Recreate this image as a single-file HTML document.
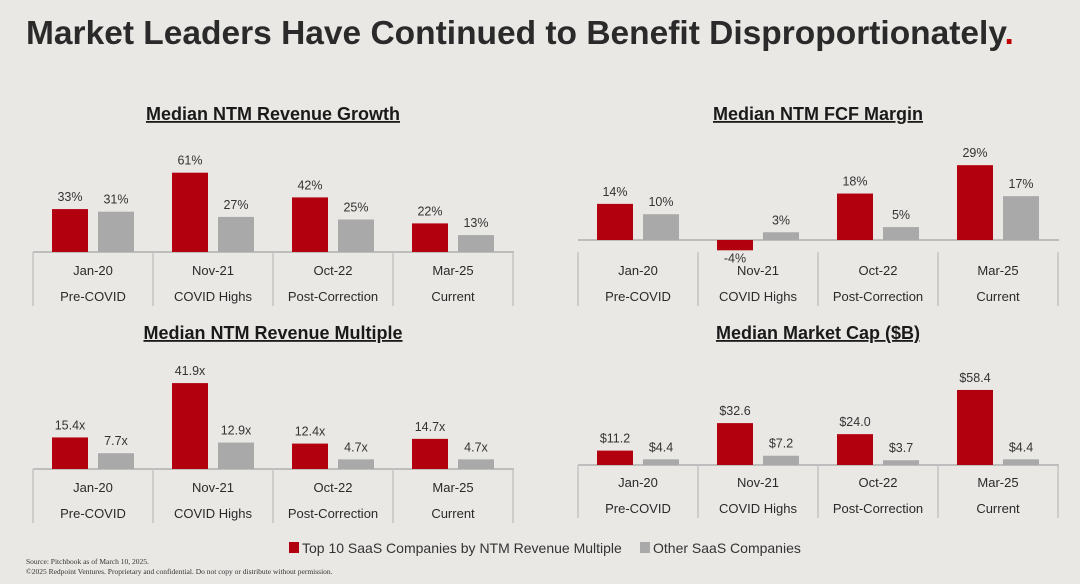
<!DOCTYPE html>
<html><head><meta charset="utf-8"><style>
html,body{margin:0;padding:0;background:#e9e8e5;}
svg{display:block;font-family:"Liberation Sans",sans-serif;}
</style></head><body>
<svg id="s" width="1080" height="584" viewBox="0 0 1080 584">
<rect width="1080" height="584" fill="#e9e8e5"/>
<text x="26" y="44" font-size="33.5" font-weight="bold" fill="#2a2a2a">Market Leaders Have Continued to Benefit Disproportionately<tspan fill="#c00000">.</tspan></text>
<g id="legend">
<rect x="289" y="542" width="10" height="11" fill="#b3000e"/>
<text x="302" y="553" font-size="14" fill="#333">Top 10 SaaS Companies by NTM Revenue Multiple</text>
<rect x="640" y="542" width="10" height="11" fill="#a9a9a9"/>
<text x="653" y="553" font-size="14" fill="#333">Other SaaS Companies</text>
</g>
<text x="26" y="564" font-size="7.5" font-family="Liberation Serif,serif" fill="#333">Source: Pitchbook as of March 10, 2025.</text>
<text x="26" y="574" font-size="7.5" font-family="Liberation Serif,serif" fill="#333">©2025 Redpoint Ventures. Proprietary and confidential. Do not copy or distribute without permission.</text>
</svg>
<script>
const categories = ["Jan-20","Nov-21","Oct-22","Mar-25"];
const phases = ["Pre-COVID","COVID Highs","Post-Correction","Current"];
const revGrowthTop = [33,61,42,22];
const revGrowthOther = [31,27,25,13];
const fcfTop = [14,-4,18,29];
const fcfOther = [10,3,5,17];
const multipleTop = [15.4,41.9,12.4,14.7];
const multipleOther = [7.7,12.9,4.7,4.7];
const mcapTop = [11.2,32.6,24.0,58.4];
const mcapOther = [4.4,7.2,3.7,4.4];

const svg = document.getElementById('s');
const NS = 'http://www.w3.org/2000/svg';
function mk(tag, attrs){const e=document.createElementNS(NS,tag);for(const k in attrs)e.setAttribute(k,attrs[k]);return e;}

function chart(opt){
  const g = mk('g',{});
  
  
  svg.appendChild(g);
  const t = mk('text',{x:opt.x0+240,y:opt.titleY,'font-size':18,'font-weight':'bold','text-anchor':'middle',fill:'#1a1a1a','text-decoration':'underline'});
  t.textContent = opt.title;
  
  
  g.appendChild(t);
  const y = v => opt.base - v*opt.scale;
  const gw = 120;
  const lo = opt.labOff;
  const ax = mk('line',{x1:opt.x0,x2:opt.x0+gw*4+1,y1:opt.base,y2:opt.base,stroke:'#bdbdbd','stroke-width':2});
  
  
  g.appendChild(ax);
  for(let i=0;i<=4;i++){
    const l = mk('line',{x1:opt.x0+i*gw,x2:opt.x0+i*gw,y1:opt.base+opt.sepGap,y2:opt.base+lo+31,stroke:'#c4c4c4','stroke-width':1.5});
    
    
    g.appendChild(l);
  }
  categories.forEach((c,i)=>{
    const gx = opt.x0+i*gw;
    [[opt.a,'#b3000e',19,'top10'],[opt.b,'#a9a9a9',65,'other']].forEach(([arr,col,off,ser])=>{
      const v = arr[i];
      const top = Math.min(y(v),opt.base), h = Math.abs(y(v)-opt.base);
      const r = mk('rect',{x:gx+off,y:top,width:36,height:h,fill:col});
      
      
      g.appendChild(r);
      const ly = v>=0 ? top-8 : opt.base+h+12;
      const lt = mk('text',{x:gx+off+18,y:ly,'font-size':12.5,'text-anchor':'middle',fill:'#333'});
      lt.textContent = opt.fmt(v);
      
      
      g.appendChild(lt);
    });
    const c1 = mk('text',{x:gx+60,y:opt.base+lo,'font-size':13,'text-anchor':'middle',fill:'#2a2a2a'});
    c1.textContent = c;
    
    
    g.appendChild(c1);
    const c2 = mk('text',{x:gx+60,y:opt.base+lo+26,'font-size':13,'text-anchor':'middle',fill:'#2a2a2a'});
    c2.textContent = phases[i];
    
    
    g.appendChild(c2);
  });
}
chart({name:'revenue-growth-chart',title:'Median NTM Revenue Growth',x0:33,titleY:120,base:252,scale:1.3,sepGap:0,labOff:23,a:revGrowthTop,b:revGrowthOther,fmt:v=>v+'%'});
chart({name:'fcf-margin-chart',title:'Median NTM FCF Margin',x0:578,titleY:120,base:240,scale:2.58,sepGap:12,labOff:35,a:fcfTop,b:fcfOther,fmt:v=>v+'%'});
chart({name:'revenue-multiple-chart',title:'Median NTM Revenue Multiple',x0:33,titleY:339,base:469,scale:2.05,sepGap:0,labOff:23,a:multipleTop,b:multipleOther,fmt:v=>v.toFixed(1)+'x'});
chart({name:'market-cap-chart',title:'Median Market Cap ($B)',x0:578,titleY:339,base:465,scale:1.285,sepGap:0,labOff:22,a:mcapTop,b:mcapOther,fmt:v=>'$'+v.toFixed(1)});
</script>
</body></html>
